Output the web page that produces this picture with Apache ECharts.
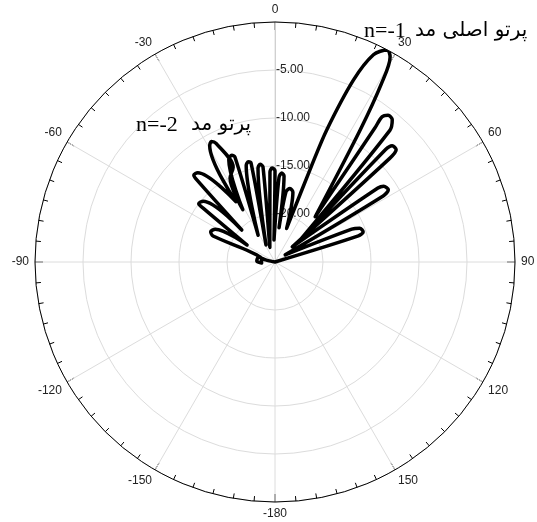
<!DOCTYPE html>
<html>
<head>
<meta charset="utf-8">
<script src="https://cdn.jsdelivr.net/npm/echarts/dist/echarts.min.js"></script>
<style>
  html, body { margin: 0; padding: 0; background: #fff; }
  #chart { width: 537px; height: 522px; }
</style>
</head>
<body>
<div id="chart"></div>
<script>
// Far-field radiation pattern of the leaky-wave antenna.
// Angle in degrees from broadside (clockwise positive), gain in dB (normalised).
const patternAngle = [
  -85, -77.5, -73.6, -86.8, -94.4, -71.6,
  -67.2, -64.9, -61.2, -58.7,
  -53.1, -52.6, -49.7, -46.1,
  -43.6, -43.0, -40.9, -33.0,
  -29.3, -27.8, -26.4, -23.8, -28.2, -31.6,
  -24.3, -22.0, -20.9, -32.2,
  -16.6, -14.9, -13.6, -27.9,
  -10.3, -8.7, -7.2, -19.7,
  -3.2, -1.8, 0.0, -2.6,
  2.7, 4.3, 6.0, 6.7,
  8.9, 11.5, 14.4, 19.1,
  20.8, 21.4, 23.3, 25.4, 27.9, 29.3, 30.8, 32.8, 41.6,
  36.7, 36.4, 37.6, 39.5, 41.1, 48.7,
  44.5, 45.2, 47.2, 47.9, 48.6,
  54.3, 55.1, 57.5, 58.6, 55.0,
  66.8, 68.2, 71.2, 72.6, 75
];
const patternGain = [
  -25, -24.0, -23.2, -23.1, -23.6, -23.4,
  -18.0, -17.6, -17.9, -21.6,
  -15.6, -15.0, -15.2, -20.2,
  -13.2, -12.6, -12.7, -17.5,
  -11.1, -10.8, -11.2, -14.2, -15.1, -18.6,
  -13.3, -13.0, -13.3, -21.7,
  -14.5, -14.2, -14.4, -23.0,
  -15.1, -14.7, -15.0, -23.4,
  -15.6, -15.2, -15.5, -22.7,
  -16.2, -15.7, -16.0, -21.4,
  -17.6, -17.2, -17.5, -21.3,
  -14.4, -10.2, -4.4, -1.1, 0, -0.5, -3.3, -8.6, -18.7,
  -7.6, -6.2, -5.7, -5.8, -6.8, -21.5,
  -8.6, -7.8, -7.8, -8.9, -22.6,
  -11.8, -11.2, -11.0, -11.8, -23.7,
  -16.3, -15.5, -15.3, -15.9, -25
];

// Radial scale (dB) and angular scale (degrees)
const gainMin = -25;
const gainMax = 0;
const gainStep = 5;
const angleStep = 30;

// Beam annotations: Persian caption + mode number
const beamNames = ['پرتو اصلی مد', 'پرتو مد'];
const beamModes = ['n=-1', 'n=-2'];

// Angles below zero are mapped onto 0..360 for the angle axis
const lineData = patternAngle.map((a, i) => [patternGain[i], a < 0 ? a + 360 : a]);

const chart = echarts.init(document.getElementById('chart'), null, { renderer: 'canvas' });

const latinFont = '22px "Liberation Serif", "Times New Roman", serif';
const persianFont = '20px "DejaVu Sans", "Noto Sans", sans-serif';

chart.setOption({
  backgroundColor: '#ffffff',
  animation: false,
  polar: { center: [275, 262], radius: 240 },
  angleAxis: {
    type: 'value',
    min: 0,
    max: 360,
    interval: angleStep,
    startAngle: 90,
    clockwise: true,
    axisLine: { show: true, lineStyle: { color: '#000', width: 1 } },
    axisTick: { show: true, inside: true, length: 8, lineStyle: { color: '#000', width: 1 } },
    minorTick: { show: true, splitNumber: 6, length: 5, lineStyle: { color: '#000', width: 1 } },
    axisLabel: {
      margin: 6,
      color: '#222',
      fontFamily: '"Liberation Sans", Arial, sans-serif',
      fontSize: 12,
      formatter: v => (v >= 360 ? '' : String(v >= 180 ? v - 360 : v))
    },
    splitLine: { show: true, lineStyle: { color: '#dcdcdc', width: 1 } }
  },
  radiusAxis: {
    type: 'value',
    min: gainMin,
    max: gainMax,
    interval: gainStep,
    axisLine: { show: true, lineStyle: { color: '#d0d0d0', width: 1 } },
    axisTick: { show: false },
    axisLabel: {
      color: '#222',
      fontFamily: '"Liberation Sans", Arial, sans-serif',
      fontSize: 12,
      margin: -1,
      align: 'left',
      verticalAlign: 'middle',
      padding: [0, 0, 6, 0],
      showMinLabel: false,
      showMaxLabel: false,
      formatter: v => (v <= gainMin || v >= gainMax ? '' : v.toFixed(2))
    },
    splitLine: { show: true, lineStyle: { color: '#dcdcdc', width: 1 } }
  },
  graphic: [
    // main beam, mode n = -1
    { type: 'text', left: 364, top: 20, z: 10,
      style: { text: beamModes[0], font: latinFont, fill: '#000' } },
    { type: 'text', left: 415, top: 21, z: 10,
      style: { text: beamNames[0], font: persianFont, fill: '#000' } },
    // beam of mode n = -2
    { type: 'text', left: 136, top: 114, z: 10,
      style: { text: beamModes[1], font: latinFont, fill: '#000' } },
    { type: 'text', left: 191, top: 115, z: 10,
      style: { text: beamNames[1], font: persianFont, fill: '#000' } }
  ],
  series: [{
    type: 'line',
    coordinateSystem: 'polar',
    data: lineData,
    symbol: 'none',
    smooth: 0.3,
    lineStyle: { color: '#000', width: 3.5, join: 'round', cap: 'round' },
    z: 5
  }]
});
</script>
</body>
</html>
